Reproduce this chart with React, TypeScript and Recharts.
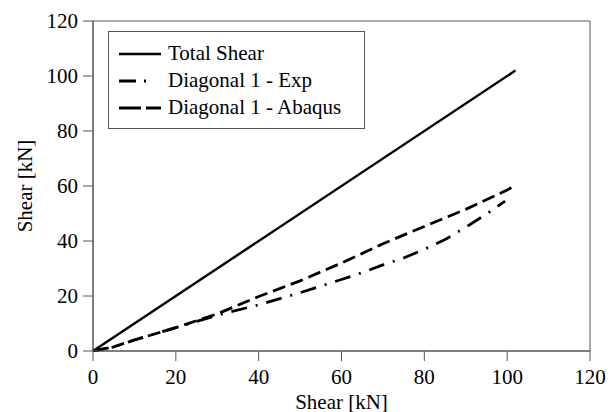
import { LineChart, Line, XAxis, YAxis, ReferenceArea, Label } from 'recharts'

const totalX = [0, 102]
const totalY = [0, 102]

const expX = [0, 5, 10, 20, 30, 40, 50, 60, 65, 70, 75, 80, 85, 90, 95, 99.5]
const expY = [0, 1.5, 4, 8.5, 13, 16.8, 21.2, 26, 28.5, 31.3, 33.8, 37, 40.5, 45, 49.8, 54.5]

const abaqusX = [0, 5, 10, 20, 30, 40, 50, 60, 70, 80, 90, 100, 102]
const abaqusY = [0, 1.5, 4, 8.5, 13.5, 19.8, 25.5, 32, 39, 45.3, 51.5, 58.5, 60.4]

const ticks = [0, 20, 40, 60, 80, 100, 120]

const SERIES = [
  { name: 'Total Shear', dash: undefined, legendDash: undefined, width: 2.4 },
  { name: 'Diagonal 1 - Exp', dash: '16 9 2 9', legendDash: '17 8 2 30', width: 2.8 },
  { name: 'Diagonal 1 - Abaqus', dash: '13 6', legendDash: '22 5 15', width: 2.8 },
]

const toPoints = (xs: number[], ys: number[]) => xs.map((x, i) => ({ x, y: ys[i] }))

const datasets = [
  toPoints(totalX, totalY),
  toPoints(expX, expY),
  toPoints(abaqusX, abaqusY),
]

const FONT = 'Liberation Serif'
const CSS = '.shear-chart text, .shear-chart div, .shear-chart span { font-family: "Liberation Serif", Tinos, "Times New Roman" !important; }'

// legend drawn as an overlay so it doesn't eat into the plot height
function LegendBox() {
  return (
    <div
      style={{
        position: 'absolute',
        left: 108,
        top: 31,
        width: 257,
        height: 98,
        border: '1px solid #555',
        background: '#fff',
        fontFamily: FONT,
        fontSize: 21,
        color: '#000',
        boxSizing: 'border-box',
        paddingTop: 8,
      }}
    >
      {SERIES.map((s) => (
        <div key={s.name} style={{ display: 'flex', alignItems: 'center', height: 27 }}>
          <svg width={49} height={10} style={{ marginLeft: 10 }}>
            <line x1={0} y1={5} x2={42} y2={5} stroke="#000" strokeWidth={s.width} strokeDasharray={s.legendDash} />
          </svg>
          <span>{s.name}</span>
        </div>
      ))}
    </div>
  )
}

export default function App() {
  return (
    <div
      className="shear-chart"
      style={{ position: 'absolute', left: 0, top: 0, width: 608, height: 412, background: '#fff', fontFamily: FONT }}
    >
      <style>{CSS}</style>
      <LineChart width={608} height={412} margin={{ top: 21, right: 18, bottom: 0, left: 0 }}>
        <XAxis
          type="number"
          dataKey="x"
          domain={[0, 120]}
          ticks={ticks}
          allowDuplicatedCategory={false}
          height={61}
          tickSize={10}
          tickMargin={8}
          stroke="#555"
          tick={{ fill: '#000', fontSize: 21, fontFamily: FONT }}
        >
          <Label value="Shear [kN]" position="insideBottom" offset={3} fontFamily={FONT} fontSize={21} fill="#000" />
        </XAxis>
        <YAxis
          type="number"
          dataKey="y"
          domain={[0, 120]}
          ticks={ticks}
          width={93}
          tickSize={10}
          tickMargin={5}
          stroke="#555"
          tick={{ fill: '#000', fontSize: 21, fontFamily: FONT }}
        >
          <Label
            value="Shear [kN]"
            angle={-90}
            position="insideLeft"
            offset={25}
            fontFamily={FONT}
            fontSize={21}
            fill="#000"
            style={{ textAnchor: 'middle' }}
          />
        </YAxis>
        <ReferenceArea x1={0} x2={120} y1={0} y2={120} fill="none" stroke="#555" strokeWidth={1} />
        {SERIES.map((s, i) => (
          <Line
            key={s.name}
            data={datasets[i]}
            dataKey="y"
            name={s.name}
            type="linear"
            stroke="#000"
            strokeWidth={s.width}
            strokeDasharray={s.dash}
            dot={false}
            isAnimationActive={false}
          />
        ))}
      </LineChart>
      <LegendBox />
    </div>
  )
}
